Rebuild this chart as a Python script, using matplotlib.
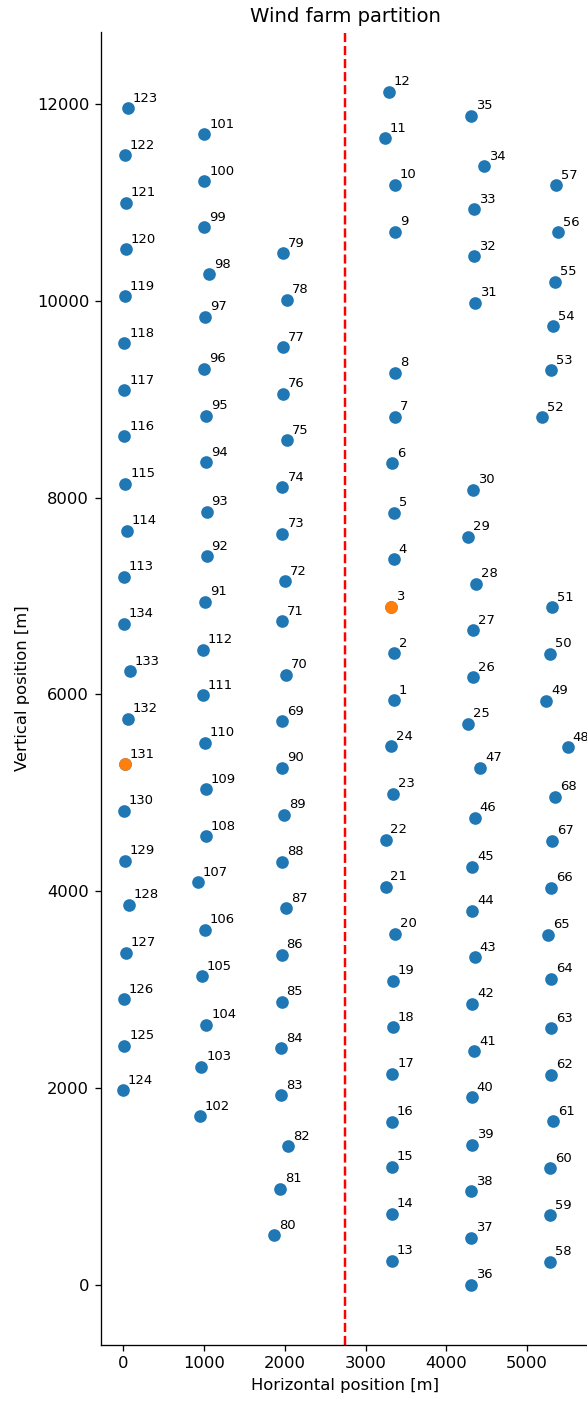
import matplotlib
matplotlib.use("Agg")
import matplotlib.pyplot as plt
import numpy as np

# Turbine positions [m], listed by turbine id 1..134
turbine_x = [
    3351, 3351, 3313, 3351, 3359, 3326, 3363, 3363, 3363, 3363,
    3243, 3289, 3326, 3326, 3326, 3330, 3334, 3338, 3338, 3363,
    3248, 3248, 3347, 3322, 4268, 4329, 4333, 4375, 4272, 4333,
    4363, 4342, 4342, 4474, 4313, 4309, 4313, 4313, 4317, 4317,
    4350, 4321, 4354, 4325, 4325, 4354, 4425, 5507, 5243, 5288,
    5317, 5188, 5296, 5321, 5346, 5391, 5367, 5284, 5292, 5292,
    5321, 5296, 5296, 5300, 5263, 5300, 5309, 5354, 1967, 2012,
    1967, 2000, 1971, 1971, 2021, 1979, 1979, 2021, 1979, 1868,
    1946, 2037, 1950, 1950, 1959, 1959, 2012, 1963, 1988, 1967,
    1009, 1030, 1030, 1021, 1021, 996, 1009, 1058, 996, 1000,
    1000, 947, 963, 1025, 975, 1009, 922, 1017, 1021, 1009,
    984, 984, 5, 38, 21, 9, 9, 9, 14, 26,
    30, 14, 51, -7, 9, 1, 26, 67, 14, 5,
    14, 55, 75, 5,
]
turbine_y = [
    5941, 6419, 6893, 7371, 7846, 8347, 8821, 9271, 10701, 11179,
    11649, 12124, 247, 725, 1199, 1660, 2144, 2618, 3092, 3570,
    4048, 4522, 4993, 5471, 5704, 6175, 6652, 7127, 7602, 8079,
    9980, 10453, 10928, 11365, 11880, 0, 478, 951, 1426, 1907,
    2374, 2856, 3329, 3804, 4248, 4749, 5254, 5463, 5938, 6413,
    6886, 8817, 9292, 9742, 10193, 10697, 11172, 234, 707, 1185,
    1663, 2134, 2608, 3113, 3560, 4034, 4515, 4962, 5728, 6202,
    6744, 7150, 7632, 8103, 8583, 9055, 9528, 10010, 10484, 504,
    979, 1409, 1927, 2404, 2879, 3354, 3827, 4302, 4776, 5254,
    6944, 7404, 7856, 8360, 8834, 9309, 9837, 10267, 10745, 11215,
    11690, 1713, 2215, 2645, 3136, 3611, 4091, 4559, 5037, 5508,
    5989, 6456, 7195, 7665, 8143, 8621, 9091, 9566, 10047, 10521,
    10996, 11477, 11954, 1978, 2429, 2902, 3374, 3865, 4312, 4820,
    5291, 5755, 6236, 6720,
]
turbine_ids = list(range(1, len(turbine_x) + 1))

highlighted = [3, 131]   # turbines marked in orange
partition_x = 2750       # dividing line between the two groups

x = np.array(turbine_x)
y = np.array(turbine_y)
ids = np.array(turbine_ids)
mask = np.isin(ids, highlighted)

dpi = 118
fig = plt.figure(figsize=(587 / dpi, 1401 / dpi), dpi=dpi)
ax = fig.add_axes([0.1715, 0.0403, 0.8336, 0.9368])

ax.scatter(x, y, s=45, color="tab:blue", zorder=2)
ax.scatter(x[mask], y[mask], s=45, color="tab:orange", zorder=3)
for i, xi, yi in zip(ids, x, y):
    ax.annotate(str(i), (xi, yi), xytext=(3, 4), textcoords="offset points",
                fontsize=8)

ax.axvline(partition_x, color="red", linestyle="--", linewidth=1.5, zorder=1)

ax.set_title("Wind farm partition")
ax.set_xlabel("Horizontal position [m]")
ax.set_ylabel("Vertical position [m]")
ax.spines["top"].set_visible(False)
ax.spines["right"].set_visible(False)

fig.savefig("out.png", dpi=dpi)
